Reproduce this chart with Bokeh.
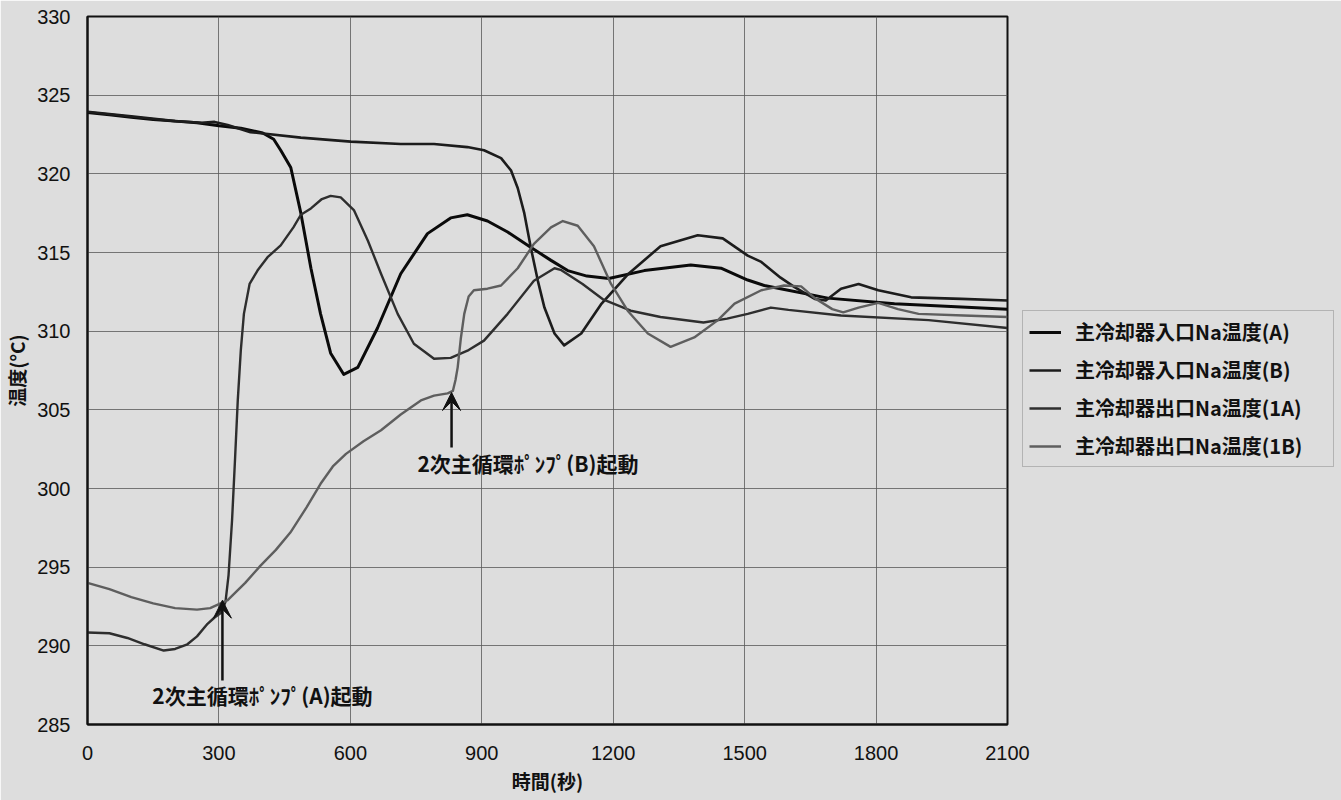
from bokeh.plotting import figure
from bokeh.models import (Range1d, Legend, LegendItem, Arrow, VeeHead, Label,
                          FixedTicker, ColumnDataSource)
from bokeh.embed import file_html
from bokeh.resources import INLINE

# ---------------- data ----------------
x_ticks = [0, 300, 600, 900, 1200, 1500, 1800, 2100]
y_ticks = [285, 290, 295, 300, 305, 310, 315, 320, 325, 330]

series_names = ["主冷却器入口Na温度(A)", "主冷却器入口Na温度(B)",
                "主冷却器出口Na温度(1A)", "主冷却器出口Na温度(1B)"]

inlet_a_t = [0, 50, 100, 150, 200, 250, 300, 350, 400, 425, 441, 464, 487, 510, 532,
             555, 585, 617, 662, 715, 776, 829, 867, 913, 959, 1008, 1058, 1096, 1140,
             1190, 1271, 1377, 1446, 1507, 1545, 1582, 1690, 1842, 2100]
inlet_a_v = [323.9, 323.75, 323.6, 323.45, 323.35, 323.25, 323.05, 322.9, 322.6, 322.2,
             321.5, 320.4, 317.5, 314.0, 311.1, 308.6, 307.25, 307.7, 310.2, 313.65,
             316.2, 317.2, 317.4, 317.0, 316.3, 315.4, 314.5, 313.85, 313.5, 313.35,
             313.85, 314.2, 314.0, 313.25, 312.9, 312.7, 312.1, 311.75, 311.4]

inlet_b_t = [0, 100, 200, 260, 290, 320, 372, 487, 601, 715, 791, 867, 905, 944, 967,
             982, 997, 1012, 1028, 1043, 1066, 1088, 1127, 1172, 1233, 1308, 1393, 1450,
             1507, 1538, 1582, 1614, 1660, 1685, 1720, 1760, 1805, 1880, 1995, 2100]
inlet_b_v = [323.95, 323.65, 323.35, 323.25, 323.3, 323.1, 322.65, 322.3, 322.05, 321.9,
             321.9, 321.7, 321.5, 321.0, 320.2, 319.1, 317.5, 315.3, 313.2, 311.5,
             309.85, 309.1, 309.85, 311.7, 313.6, 315.4, 316.1, 315.9, 314.8, 314.4,
             313.4, 312.8, 312.05, 311.95, 312.7, 313.0, 312.6, 312.15, 312.05, 311.95]

outlet_1a_t = [0, 50, 91, 130, 174, 200, 228, 250, 274, 290, 305, 315, 322, 330, 337,
               343, 350, 357, 370, 388, 411, 441, 470, 487, 510, 535, 555, 578, 608, 640,
               670, 708, 745, 791, 829, 870, 905, 959, 1019, 1066, 1080, 1130, 1178,
               1240, 1308, 1406, 1460, 1507, 1560, 1600, 1720, 1920, 2100]
outlet_1a_v = [290.85, 290.8, 290.5, 290.1, 289.7, 289.8, 290.1, 290.6, 291.4, 291.8,
               292.1, 292.8, 294.5, 298.0, 302.0, 305.6, 308.8, 311.1, 313.0, 313.85,
               314.7, 315.45, 316.6, 317.4, 317.8, 318.4, 318.6, 318.5, 317.7, 315.75,
               313.65, 311.1, 309.2, 308.25, 308.3, 308.8, 309.4, 311.1, 313.2, 314.0,
               313.9, 313.0, 312.0, 311.3, 310.9, 310.55, 310.8, 311.1, 311.5, 311.35,
               311.0, 310.7, 310.2]

outlet_1b_t = [0, 50, 100, 150, 200, 250, 280, 320, 360, 395, 430, 463, 500, 532, 560,
               590, 630, 670, 715, 761, 791, 822, 834, 840, 845, 852, 860, 870, 882, 913,
               944, 982, 1019, 1058, 1085, 1119, 1156, 1195, 1233, 1279, 1331, 1385,
               1439, 1477, 1538, 1590, 1629, 1660, 1700, 1725, 1760, 1805, 1850, 1897,
               2000, 2100]
outlet_1b_v = [294.0, 293.6, 293.1, 292.7, 292.4, 292.3, 292.4, 292.9, 294.0, 295.1,
               296.1, 297.2, 298.8, 300.3, 301.4, 302.2, 303.0, 303.7, 304.7, 305.6,
               305.9, 306.05, 306.2, 306.9, 307.7, 309.5, 311.1, 312.2, 312.6, 312.7,
               312.9, 314.0, 315.55, 316.6, 317.0, 316.7, 315.4, 313.0, 311.3, 309.85,
               309.0, 309.6, 310.7, 311.75, 312.6, 312.9, 312.85, 312.1, 311.4, 311.2,
               311.5, 311.8, 311.4, 311.1, 311.0, 310.9]

# annotations: pump start events
note_texts = ["2次主循環ﾎﾟﾝﾌﾟ(A)起動", "2次主循環ﾎﾟﾝﾌﾟ(B)起動"]
arrow_x = [308, 831]
arrow_tail_y = [287.8, 302.6]
arrow_tip_y = [292.9, 306.1]
note_x = [148, 753]
note_y = [286.85, 301.65]

# ---------------- styling ----------------
BG = "#dddddd"
line_colors = ["#0a0a0a", "#1c1c1c", "#2e2e2e", "#5e5e5e"]
line_widths = [3.0, 2.6, 2.4, 2.4]
CJK = "Noto Sans CJK JP"

p = figure(frame_width=920, frame_height=708, output_backend="svg",
           toolbar_location=None,
           x_range=Range1d(0, 2100), y_range=Range1d(285, 330),
           min_border_left=87, min_border_right=0, min_border_top=16,
           min_border_bottom=76, background_fill_color=BG, border_fill_color=BG)

p.outline_line_color = "#111111"
p.outline_line_width = 2

for ax in (p.xaxis, p.yaxis):
    ax.axis_line_color = "#111111"
    ax.axis_line_width = 2
    ax.major_tick_line_color = None
    ax.minor_tick_line_color = None
    ax.major_label_text_font = "Liberation Sans"
    ax.major_label_text_font_size = "20px"
    ax.major_label_text_color = "#111111"
    ax.axis_label_text_font = CJK
    ax.axis_label_text_font_style = "bold"
    ax.axis_label_text_font_size = "19px"
    ax.axis_label_text_color = "#111111"

p.xaxis.ticker = FixedTicker(ticks=x_ticks)
p.yaxis.ticker = FixedTicker(ticks=y_ticks)
p.xaxis.major_label_standoff = 15
p.yaxis.major_label_standoff = 11
p.xaxis.axis_label = "時間(秒)"
p.yaxis.axis_label = "温度(°C)"
p.xaxis.axis_label_standoff = 4
p.yaxis.axis_label_standoff = 4

p.xgrid.ticker = FixedTicker(ticks=x_ticks)
p.ygrid.ticker = FixedTicker(ticks=y_ticks)
for g in (p.xgrid, p.ygrid):
    g.grid_line_color = "#5a5a5a"
    g.grid_line_width = 1
    g.grid_line_alpha = 0.8

all_t = [inlet_a_t, inlet_b_t, outlet_1a_t, outlet_1b_t]
all_v = [inlet_a_v, inlet_b_v, outlet_1a_v, outlet_1b_v]
renderers = []
for t, v, c, w in zip(all_t, all_v, line_colors, line_widths):
    src = ColumnDataSource(dict(t=t, v=v))
    r = p.line("t", "v", source=src, line_color=c, line_width=w, line_join="round")
    renderers.append(r)

for xa, y0, y1 in zip(arrow_x, arrow_tail_y, arrow_tip_y):
    p.add_layout(Arrow(x_start=xa, y_start=y0, x_end=xa, y_end=y1,
                       line_color="#111111", line_width=2.5,
                       end=VeeHead(size=18, fill_color="#111111",
                                   line_color="#111111")))

for txt, xx, yy in zip(note_texts, note_x, note_y):
    p.add_layout(Label(x=xx, y=yy, text=txt, text_font=CJK,
                       text_font_style="bold", text_font_size="21px",
                       text_color="#111111", text_baseline="middle",
                       text_align="left"))

legend = Legend(items=[LegendItem(label=n, renderers=[r])
                       for n, r in zip(series_names, renderers)],
                location=(15, 257), orientation="vertical",
                label_text_font=CJK, label_text_font_style="bold",
                label_text_font_size="20px", label_text_color="#111111",
                glyph_width=32, glyph_height=20, label_height=20,
                label_width=252, label_standoff=14, spacing=9, padding=6,
                margin=0, border_line_color="#8a8a8a", border_line_width=1.5,
                background_fill_color=BG, background_fill_alpha=1.0)
p.add_layout(legend, "right")

open("out.html", "w").write(file_html(p, INLINE))
